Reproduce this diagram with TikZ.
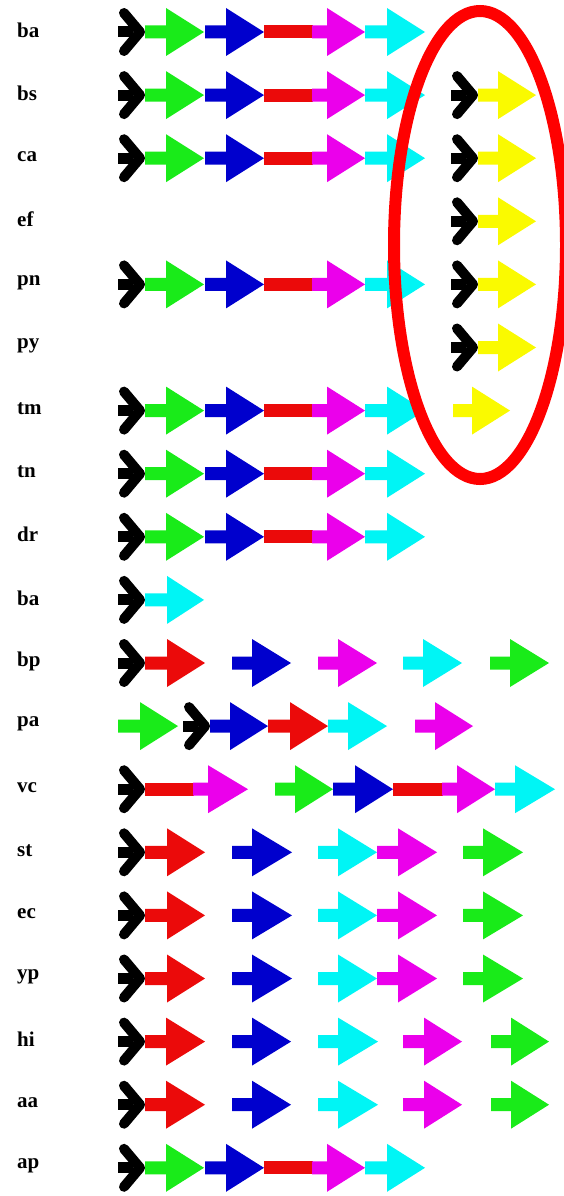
\documentclass[tikz,border=0pt]{standalone}
\usepackage{fontspec}
\newfontfamily\lblfont{Liberation Serif}
\definecolor{colG}{RGB}{25,235,25}
\definecolor{colB}{RGB}{0,0,205}
\definecolor{colR}{RGB}{235,10,10}
\definecolor{colM}{RGB}{235,0,235}
\definecolor{colC}{RGB}{0,245,245}
\definecolor{colY}{RGB}{250,250,0}
\definecolor{ringred}{RGB}{255,0,0}
\tikzset{
  lbl/.style={anchor=west, inner sep=0pt, font=\lblfont\bfseries\fontsize{21}{21}\selectfont},
  chev/.style={draw=black, line width=10pt, line cap=round, line join=round},
  ring/.style={draw=ringred, line width=12pt}
}
% arrow: colour, start x, head start x, tip x, y
\newcommand\mkarrow[5]{\fill[fill=#1] (#2,#5-6.5) -- (#3,#5-6.5) -- (#3,#5-24) -- (#4,#5) -- (#3,#5+24) -- (#3,#5+6.5) -- (#2,#5+6.5) -- cycle;}
% red bar: start x, end x, y
\newcommand\mkbar[3]{\fill[fill=colR] (#1,#3-6.5) rectangle (#2,#3+6.5);}
% black chevron: left x, y
\newcommand\mkblack[2]{\fill[fill=black] (#1,#2-5.5) rectangle (#1+15,#2+5.5);
  \draw[chev] (#1+6,#2-19) -- (#1+22,#2) -- (#1+6,#2+19);}
\newcommand\setrow[1]{\pgfmathsetmacro\yy{32+63.1*#1}}
\newcommand\rowfull{\mkblack{118}{\yy}\mkarrow{colG}{145}{166}{204}{\yy}\mkarrow{colB}{205}{226}{264}{\yy}\mkbar{264}{313}{\yy}\mkarrow{colM}{312}{327}{365}{\yy}\mkarrow{colC}{365}{387}{425}{\yy}}
\newcommand\rowyel{\mkblack{451}{\yy}\mkarrow{colY}{478}{498}{536}{\yy}}
\begin{document}
\begin{tikzpicture}[x=1pt,y=-1pt]
\useasboundingbox (0,0) rectangle (564,1196);
\fill[white] (0,0) rectangle (564,1196);
\clip (0,0) rectangle (564,1196);
% labels
\foreach \i/\t in {0/ba,1/bs,2/ca,3/ef,4/pn,5/py,6/tm,7/tn,8/dr,9/ba,10/bp,11/pa,12/vc,13/st,14/ec,15/yp,16/hi,17/aa,18/ap}
  \node[lbl] (lab\i) at (17,{32+63.1*\i-2}) {\t};
% full rows
\foreach \r in {0,1,2,4,6,7,8,18}{\setrow{\r}\rowfull}
% yellow group
\foreach \r in {1,2,3,4,5}{\setrow{\r}\rowyel}
\setrow{6}\mkarrow{colY}{453}{472}{510}{\yy}
% row 9
\setrow{9}\mkblack{118}{\yy}\mkarrow{colC}{145}{167}{204}{\yy}
% row 10 bp
\setrow{10}\mkblack{118}{\yy}\mkarrow{colR}{145}{167}{205}{\yy}\mkarrow{colB}{232}{252}{291}{\yy}\mkarrow{colM}{318}{338}{377}{\yy}\mkarrow{colC}{403}{423}{462}{\yy}\mkarrow{colG}{490}{510}{549}{\yy}
% row 11 pa
\setrow{11}\mkarrow{colG}{118}{140}{178}{\yy}\mkblack{183}{\yy}\mkarrow{colB}{210}{230}{268}{\yy}\mkarrow{colR}{268}{290}{328}{\yy}\mkarrow{colC}{328}{348}{387}{\yy}\mkarrow{colM}{415}{435}{473}{\yy}
% row 12 vc
\setrow{12}\mkblack{118}{\yy}\mkbar{145}{194}{\yy}\mkarrow{colM}{193}{208}{248}{\yy}\mkarrow{colG}{275}{295}{333}{\yy}\mkarrow{colB}{333}{355}{393}{\yy}\mkbar{393}{443}{\yy}\mkarrow{colM}{442}{457}{495}{\yy}\mkarrow{colC}{495}{515}{555}{\yy}
% rows 13-15
\foreach \r in {13,14,15}{\setrow{\r}\mkblack{118}{\yy}\mkarrow{colR}{145}{167}{205}{\yy}\mkarrow{colB}{232}{252}{292}{\yy}\mkarrow{colC}{318}{338}{377}{\yy}\mkarrow{colM}{377}{398}{437}{\yy}\mkarrow{colG}{463}{483}{523}{\yy}}
% rows 16-17
\foreach \r in {16,17}{\setrow{\r}\mkblack{118}{\yy}\mkarrow{colR}{145}{166}{205}{\yy}\mkarrow{colB}{232}{252}{291}{\yy}\mkarrow{colC}{318}{338}{378}{\yy}\mkarrow{colM}{403}{424}{462}{\yy}\mkarrow{colG}{491}{511}{549}{\yy}}
% red ring
\draw[ring] (480,245) ellipse [x radius=86pt, y radius=234pt];
\end{tikzpicture}
\end{document}
